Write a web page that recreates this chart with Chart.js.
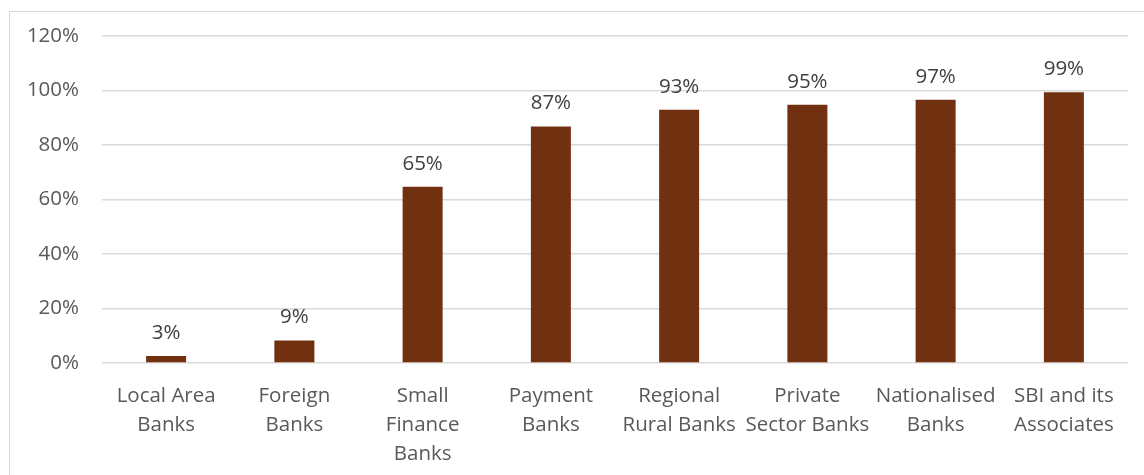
<!DOCTYPE html>
<html>
<head>
<meta charset="utf-8">
<script src="https://cdn.jsdelivr.net/npm/chart.js@4"></script>
<style>
html,body{margin:0;padding:0;background:#fff;}
#frame{position:absolute;left:9px;top:11px;width:1200px;height:500px;border-left:1.5px solid #d9d9d9;border-top:1.5px solid #d9d9d9;}
#wrap{position:absolute;left:0;top:0;width:1144px;height:475px;}
</style>
</head>
<body>
<div id="frame"></div>
<div id="wrap"><canvas id="c" width="1144" height="475"></canvas></div>
<script>
const categories = [
  ["Local Area","Banks"],
  ["Foreign","Banks"],
  ["Small","Finance","Banks"],
  ["Payment","Banks"],
  ["Regional","Rural Banks"],
  ["Private","Sector Banks"],
  ["Nationalised","Banks"],
  ["SBI and its","Associates"]
];
const values = [2.6, 8.3, 64.7, 86.8, 92.9, 94.8, 96.6, 99.4];
const valueLabels = ["3%","9%","65%","87%","93%","95%","97%","99%"];
const yTicks = [0,20,40,60,80,100,120];

const FONT = "'Open Sans', sans-serif";
const TEXT = "#595959";

const dataLabels = {
  id: 'dataLabels',
  afterDatasetsDraw(chart) {
    const ctx = chart.ctx;
    const meta = chart.getDatasetMeta(0);
    ctx.save();
    ctx.font = "20.5px " + FONT;
    ctx.fillStyle = "#404040";
    ctx.textAlign = 'center';
    ctx.textBaseline = 'middle';
    meta.data.forEach((bar, i) => {
      ctx.fillText(valueLabels[i], bar.x, bar.y - 23);
    });
    ctx.restore();
  }
};

new Chart(document.getElementById('c'), {
  type: 'bar',
  data: {
    labels: categories,
    datasets: [{
      data: values,
      backgroundColor: '#71300f',
      borderWidth: 0,
      categoryPercentage: 1,
      barPercentage: 0.312
    }]
  },
  options: {
    responsive: false,
    animation: false,
    devicePixelRatio: 1,
    layout: { padding: { top: 36, right: 16, left: 0, bottom: 0 } },
    plugins: { legend: { display: false }, tooltip: { enabled: false } },
    scales: {
      x: {
        grid: { display: false, drawTicks: false },
        border: { display: false },
        ticks: {
          color: TEXT,
          font: { family: FONT, size: 20.5, lineHeight: 1.42 },
          padding: 18.5,
          maxRotation: 0,
          autoSkip: false
        },
        afterFit(s) { s.height = 112; }
      },
      y: {
        min: 0, max: 120,
        afterBuildTicks(s) { s.ticks = yTicks.map(v => ({ value: v })); },
        grid: { color: '#d9d9d9', lineWidth: 1.5, drawTicks: false },
        border: { display: false },
        ticks: {
          color: TEXT,
          font: { family: FONT, size: 20.5 },
          padding: 23,
          callback: v => v + '%'
        },
        afterFit(s) { s.width = 102; }
      }
    }
  },
  plugins: [dataLabels]
});
</script>
</body>
</html>
